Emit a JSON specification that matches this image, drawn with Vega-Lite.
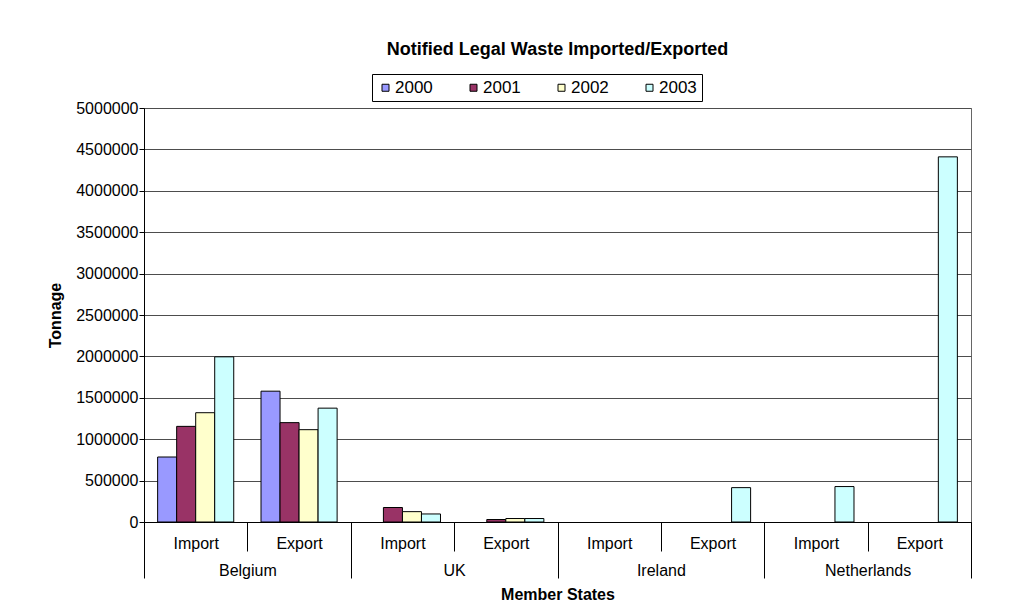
{
  "$schema": "https://vega.github.io/schema/vega-lite/v6.json",
  "autosize": {"type": "none"},
  "padding": {"left": 144, "top": 108, "right": 56, "bottom": 89},
  "width": 827,
  "height": 414,
  "background": "white",
  "config": {
    "font": "Liberation Sans",
    "view": {"stroke": "#666666", "strokeWidth": 1}
  },
  "title": {
    "text": "Notified Legal Waste Imported/Exported",
    "fontSize": 18,
    "fontWeight": "bold",
    "color": "#000000",
    "anchor": "middle",
    "offset": 15
  },
  "data": {
    "values": [
      {"country": "Belgium", "flow": "Import", "group": "Belgium Import", "year": "2000", "tonnage": 785000},
      {"country": "Belgium", "flow": "Import", "group": "Belgium Import", "year": "2001", "tonnage": 1155000},
      {"country": "Belgium", "flow": "Import", "group": "Belgium Import", "year": "2002", "tonnage": 1320000},
      {"country": "Belgium", "flow": "Import", "group": "Belgium Import", "year": "2003", "tonnage": 1995000},
      {"country": "Belgium", "flow": "Export", "group": "Belgium Export", "year": "2000", "tonnage": 1580000},
      {"country": "Belgium", "flow": "Export", "group": "Belgium Export", "year": "2001", "tonnage": 1200000},
      {"country": "Belgium", "flow": "Export", "group": "Belgium Export", "year": "2002", "tonnage": 1115000},
      {"country": "Belgium", "flow": "Export", "group": "Belgium Export", "year": "2003", "tonnage": 1375000},
      {"country": "UK", "flow": "Import", "group": "UK Import", "year": "2001", "tonnage": 175000},
      {"country": "UK", "flow": "Import", "group": "UK Import", "year": "2002", "tonnage": 125000},
      {"country": "UK", "flow": "Import", "group": "UK Import", "year": "2003", "tonnage": 97000},
      {"country": "UK", "flow": "Export", "group": "UK Export", "year": "2001", "tonnage": 30000},
      {"country": "UK", "flow": "Export", "group": "UK Export", "year": "2002", "tonnage": 42000},
      {"country": "UK", "flow": "Export", "group": "UK Export", "year": "2003", "tonnage": 42000},
      {"country": "Ireland", "flow": "Export", "group": "Ireland Export", "year": "2003", "tonnage": 415000},
      {"country": "Netherlands", "flow": "Import", "group": "Netherlands Import", "year": "2003", "tonnage": 428000},
      {"country": "Netherlands", "flow": "Export", "group": "Netherlands Export", "year": "2003", "tonnage": 4410000}
    ]
  },
  "layer": [
    {
      "mark": {"type": "bar", "stroke": "#000000", "strokeWidth": 1},
      "encoding": {
        "x": {
          "field": "group",
          "type": "nominal",
          "scale": {
            "domain": ["Belgium Import", "Belgium Export", "UK Import", "UK Export", "Ireland Import", "Ireland Export", "Netherlands Import", "Netherlands Export"],
            "paddingInner": 0,
            "paddingOuter": 0
          },
          "axis": {
            "orient": "bottom",
            "title": null,
            "labelExpr": "split(datum.label, ' ')[1]",
            "labelAngle": 0,
            "labelFontSize": 16,
            "labelColor": "#000000",
            "labelBaseline": "middle",
            "labelPadding": -8,
            "tickBand": "extent",
            "tickSize": 29,
            "tickColor": "#000000",
            "domainColor": "#000000",
            "grid": false
          }
        },
        "xOffset": {
          "field": "year",
          "type": "nominal",
          "scale": {"paddingInner": 0, "paddingOuter": 0.717}
        },
        "y": {
          "field": "tonnage",
          "type": "quantitative",
          "stack": null,
          "scale": {"domain": [0, 5000000], "nice": false},
          "axis": {
            "title": "Tonnage",
            "titleFontSize": 16,
            "titleFontWeight": "bold",
            "titleColor": "#000000",
            "titlePadding": 12,
            "values": [0, 500000, 1000000, 1500000, 2000000, 2500000, 3000000, 3500000, 4000000, 4500000, 5000000],
            "format": "d",
            "labelFontSize": 16,
            "labelColor": "#000000",
            "labelPadding": 1,
            "tickSize": 5,
            "tickColor": "#000000",
            "domainColor": "#000000",
            "gridColor": "#4d4d4d",
            "gridWidth": 1
          }
        },
        "color": {
          "field": "year",
          "type": "nominal",
          "scale": {
            "domain": ["2000", "2001", "2002", "2003"],
            "range": ["#9999FF", "#993366", "#FFFFCC", "#CCFFFF"]
          },
          "legend": {
            "title": null,
            "orient": "none",
            "legendX": 228,
            "legendY": -34,
            "direction": "horizontal",
            "columns": 4,
            "columnPadding": 32,
            "symbolType": "square",
            "symbolSize": 49,
            "symbolStrokeColor": "#000000",
            "symbolStrokeWidth": 1,
            "labelFontSize": 17,
            "labelColor": "#000000",
            "labelOffset": 1,
            "padding": 5,
            "strokeColor": "#000000",
            "fillColor": "#ffffff"
          }
        }
      }
    },
    {
      "mark": {"type": "bar", "opacity": 0, "clip": true},
      "encoding": {
        "x": {
          "field": "country",
          "type": "nominal",
          "scale": {
            "domain": ["Belgium", "UK", "Ireland", "Netherlands"],
            "paddingInner": 0,
            "paddingOuter": 0
          },
          "axis": {
            "orient": "bottom",
            "title": "Member States",
            "titleFontSize": 16,
            "titleFontWeight": "bold",
            "titleColor": "#000000",
            "titlePadding": 8,
            "labelAngle": 0,
            "labelFontSize": 16,
            "labelColor": "#000000",
            "labelBaseline": "middle",
            "labelPadding": -8,
            "tickBand": "extent",
            "tickSize": 56,
            "tickColor": "#000000",
            "domain": false,
            "grid": false
          }
        },
        "y": {"field": "tonnage", "type": "quantitative", "stack": null}
      }
    }
  ],
  "resolve": {"scale": {"x": "independent"}, "axis": {"x": "independent"}}
}
